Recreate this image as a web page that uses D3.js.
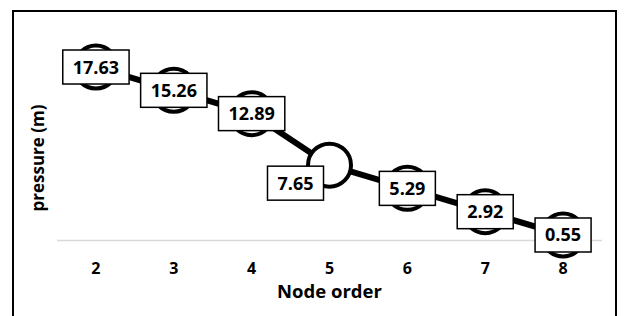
<!DOCTYPE html>
<html>
<head>
<meta charset="utf-8">
<script src="https://cdnjs.cloudflare.com/ajax/libs/d3/7.8.5/d3.min.js"></script>
<style>
body { margin: 0; background: #fff; }
svg text { font-family: "Open Sans", sans-serif; font-weight: bold; fill: #000; }
.tick-lbl { font-size: 16px; }
.val { font-size: 18px; }
.axis-title { font-size: 18.5px; }
.y-title { font-size: 17px; }
</style>
</head>
<body>
<div class="content"></div>
<script>
var nodes = ["2", "3", "4", "5", "6", "7", "8"];
var pressure = [17.63, 15.26, 12.89, 7.65, 5.29, 2.92, 0.55];
var yDomain = [0, 20];

var width = 624, height = 316;

var svg = d3.select(".content").append("svg")
  .attr("width", width).attr("height", height);

// outer frame (bottom runs off the page)
svg.append("rect")
  .attr("x", 13).attr("y", 11)
  .attr("width", 603).attr("height", 330)
  .attr("fill", "#fff").attr("stroke", "#000").attr("stroke-width", 2);

var x = d3.scaleBand().domain(nodes).range([57, 602]);
var y = d3.scaleLinear().domain(yDomain).range([240.4, 43.7]);

function cx(d, i) { return x(nodes[i]) + x.bandwidth() / 2; }

// baseline
svg.append("line")
  .attr("x1", 57).attr("x2", 602)
  .attr("y1", y(0)).attr("y2", y(0))
  .attr("stroke", "#d9d9d9").attr("stroke-width", 1.5);

// x tick labels
svg.selectAll(".tick-lbl")
  .data(nodes)
  .enter().append("text")
  .attr("class", "tick-lbl")
  .attr("x", function (d) { return x(d) + x.bandwidth() / 2; })
  .attr("y", 273.5)
  .attr("text-anchor", "middle")
  .text(function (d) { return d; });

svg.append("text")
  .attr("class", "axis-title")
  .attr("x", 329.5).attr("y", 298)
  .attr("text-anchor", "middle")
  .text("Node order");

svg.append("text")
  .attr("class", "y-title")
  .attr("transform", "translate(44,158) rotate(-90)")
  .attr("text-anchor", "middle")
  .text("pressure (m)");

// line
var line = d3.line()
  .x(cx)
  .y(function (d) { return y(d); });

svg.append("path")
  .datum(pressure)
  .attr("d", line)
  .attr("fill", "none")
  .attr("stroke", "#000")
  .attr("stroke-width", 6)
  .attr("stroke-linejoin", "round");

// markers
svg.selectAll(".marker")
  .data(pressure)
  .enter().append("circle")
  .attr("class", "marker")
  .attr("cx", cx)
  .attr("cy", function (d) { return y(d); })
  .attr("r", 21.5)
  .attr("fill", "#fff")
  .attr("stroke", "#000")
  .attr("stroke-width", 4);

// data labels in boxes
var lbl = svg.selectAll(".lbl")
  .data(pressure)
  .enter().append("g")
  .attr("class", "lbl")
  .attr("transform", function (d, i) {
    var dx = 0, dy = 0;
    if (i === 3) { dx = -34; dy = 18; }   // this label sits below-left of its point
    return "translate(" + (cx(d, i) + dx) + "," + (y(d) + dy) + ")";
  });

lbl.append("rect").attr("fill", "#fff").attr("stroke", "#000").attr("stroke-width", 1.5);

lbl.append("text")
  .attr("class", "val")
  .attr("text-anchor", "middle")
  .attr("y", 6.5)
  .text(function (d) { return d.toFixed(2); });

lbl.each(function () {
  var g = d3.select(this);
  var w = g.select("text").node().getComputedTextLength() + 20;
  g.select("rect")
    .attr("x", -w / 2).attr("y", -17)
    .attr("width", w).attr("height", 34);
});
</script>
</body>
</html>
